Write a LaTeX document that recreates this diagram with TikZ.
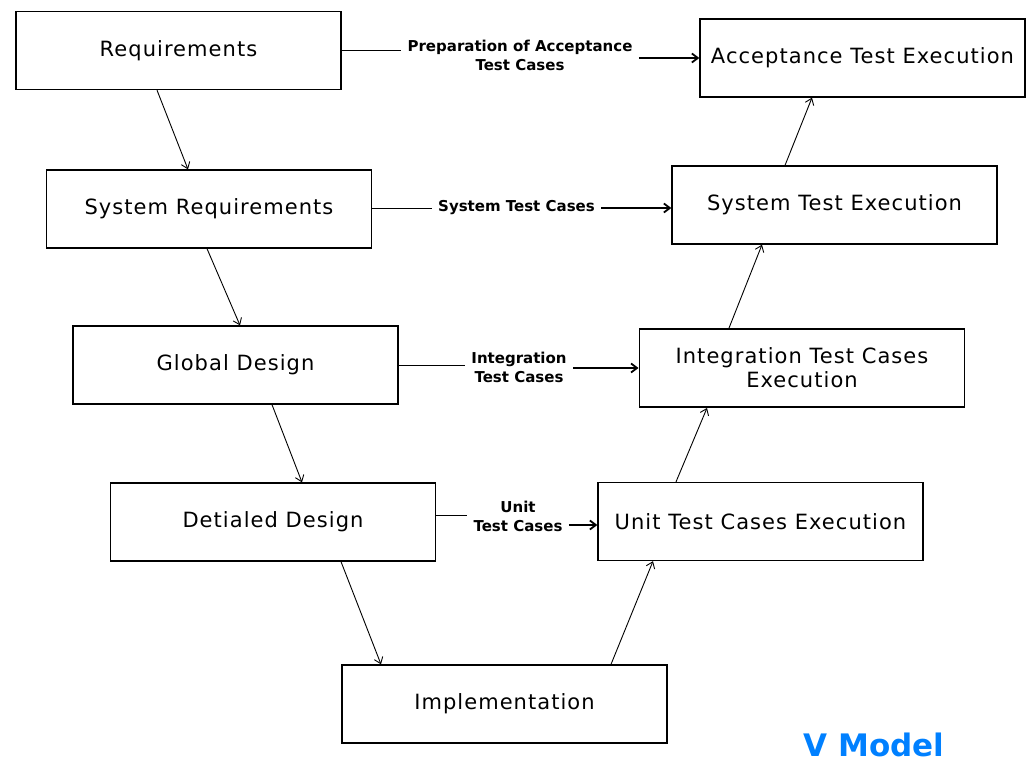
\documentclass[tikz,border=0pt]{standalone}
\usepackage{fontspec}
\setmainfont{DejaVu Sans}
\newfontfamily\boxfont[LetterSpace=5]{DejaVu Sans}
\usetikzlibrary{arrows.meta}
\definecolor{vblue}{RGB}{0,128,255}
\tikzset{>={Straight Barb[length=6pt,width=9pt]}}
\tikzset{phase/.style={draw, line width=1.3pt, align=center, minimum width=325pt, minimum height=78pt, font=\boxfont\fontsize{21}{24}\selectfont}}
\tikzset{caselabel/.style={inner sep=6pt, align=center, font=\bfseries\fontsize{15}{19}\selectfont}}

\begin{document}
\begin{tikzpicture}[x=1pt, y=-1pt, line width=0.9pt]
    \useasboundingbox (0,0) rectangle (1034,764);
    % left side of the V
    \node [phase] (req) at (178.5,50.5) {Requirements};
    \node [phase] (sysreq) at (209,209) {System Requirements};
    \node [phase] (global) at (235.5,365) {Global Design};
    \node [phase] (detail) at (273,522) {Detialed Design};
    \node [phase] (impl) at (504.5,704) {Implementation};
    % right side of the V
    \node [phase] (unit) at (760.5,521.5) {Unit Test Cases Execution};
    \node [phase, line width=1.9pt] (integ) at (802,368) {Integration Test Cases\\Execution};
    \node [phase] (systest) at (834.5,205) {System Test Execution};
    \node [phase] (accept) at (862.5,58) {Acceptance Test Execution};
    % test case labels
    \node [caselabel] (lblacc) at (520,55) {Preparation of Acceptance\\Test Cases};
    \node [caselabel] (lblsys) at (516.5,208) {System Test Cases};
    \node [caselabel] (lblint) at (519,367) {Integration\\Test Cases};
    \node [caselabel] (lblunit) at (518,516) {Unit\\Test Cases};
    \node [font=\bfseries\fontsize{31}{36}\selectfont, text=vblue] (vmodel) at (874,745) {V Model};
    % down and up the V
    \draw [->] ([xshift=-21.5pt]req.south) -- ([xshift=-21pt]sysreq.north);
    \draw [->] ([xshift=-2pt]sysreq.south) -- ([xshift=4.5pt]global.north);
    \draw [->] ([xshift=36.5pt]global.south) -- ([xshift=29pt]detail.north);
    \draw [->] ([xshift=68pt]detail.south) -- ([xshift=-123.5pt]impl.north);
    \draw [->] ([xshift=106.5pt]impl.north) -- ([xshift=-107.5pt]unit.south);
    \draw [->] ([xshift=-84.5pt]unit.north) -- ([xshift=-95pt]integ.south);
    \draw [->] ([xshift=-73pt]integ.north) -- ([xshift=-72.5pt]systest.south);
    \draw [->] ([xshift=-49.5pt]systest.north) -- ([xshift=-50.5pt]accept.south);
    % across the V
    \draw (req.east) -- (req.east -| lblacc.west);
    \draw [->, line width=1.8pt] (lblacc.east |- accept.west) -- (accept.west);
    \draw (sysreq.east |- lblsys.west) -- (lblsys.west);
    \draw [->, line width=1.8pt] (lblsys.east) -- (lblsys.east -| systest.west);
    \draw (global.east) -- (global.east -| lblint.west);
    \draw [->, line width=1.8pt] (lblint.east |- integ.west) -- (integ.west);
    \draw ([yshift=7pt]detail.east) -- ([yshift=7pt]detail.east -| lblunit.west);
    \draw [->, line width=1.8pt] ([yshift=-3.5pt]unit.west -| lblunit.east) -- ([yshift=-3.5pt]unit.west);
\end{tikzpicture}
\end{document}
